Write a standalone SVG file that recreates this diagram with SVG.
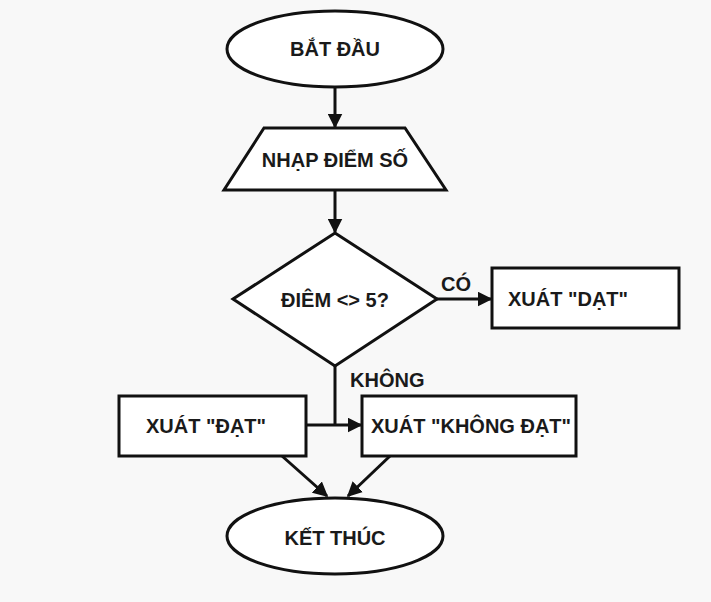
<svg xmlns="http://www.w3.org/2000/svg" width="711" height="602" viewBox="0 0 711 602">
<style>
.s{fill:#fff;stroke:#111;stroke-width:3}
.t{font-family:"Liberation Sans",Arial,sans-serif;font-weight:bold;font-size:20px;fill:#1a1a1a}
.c{text-anchor:middle}
.l{fill:none;stroke:#111;stroke-width:3}
</style>
<defs>
<marker id="a" viewBox="0 0 10 10" refX="9" refY="5" markerWidth="5" markerHeight="5" orient="auto" markerUnits="strokeWidth">
<path d="M0,0 L10,5 L0,10 z" fill="#111"/>
</marker>
</defs>
<rect width="711" height="602" fill="#f8f8f8"/>
<g id="connectors">
<line class="l" x1="335" y1="88" x2="335" y2="127" marker-end="url(#a)"/>
<line class="l" x1="335" y1="190" x2="335" y2="232" marker-end="url(#a)"/>
<line class="l" x1="437" y1="299" x2="491" y2="299" marker-end="url(#a)"/>
<polyline class="l" points="335,366 335,425"/>
<line class="l" x1="306" y1="425" x2="361" y2="425" marker-end="url(#a)"/>
<line class="l" x1="282" y1="456" x2="327" y2="496" marker-end="url(#a)"/>
<line class="l" x1="390" y1="456" x2="348" y2="496" marker-end="url(#a)"/>
<text class="t" x="441" y="291">CÓ</text>
<text class="t" x="350" y="387">KHÔNG</text>
</g>
<g id="start">
<ellipse class="s" cx="335" cy="49" rx="108" ry="38" stroke-width="3.5"/>
<text class="t c" x="335" y="56">BẮT ĐẦU</text>
</g>
<g id="input">
<polygon class="s" points="264,128 405,128 446,190 224,190"/>
<text class="t c" x="335" y="167">NHẠP ĐIỂM SỐ</text>
</g>
<g id="decision">
<polygon class="s" points="335,233 437,299 335,366 233,299"/>
<text class="t c" x="335" y="307">ĐIÊM &lt;&gt; 5?</text>
</g>
<g id="out-yes">
<rect class="s" x="492" y="268" width="187" height="60"/>
<text class="t" x="508" y="306">XUÁT "DẠT"</text>
</g>
<g id="out-pass">
<rect class="s" x="119" y="396" width="187" height="60"/>
<text class="t" x="146" y="433">XUÁT "ĐẠT"</text>
</g>
<g id="out-fail">
<rect class="s" x="362" y="396" width="214" height="60"/>
<text class="t" x="371" y="433">XUÁT "KHÔNG ĐẠT"</text>
</g>
<g id="end">
<ellipse class="s" cx="335" cy="536" rx="108" ry="38" stroke-width="3.5"/>
<text class="t c" x="335" y="545">KẾT THÚC</text>
</g>
</svg>
